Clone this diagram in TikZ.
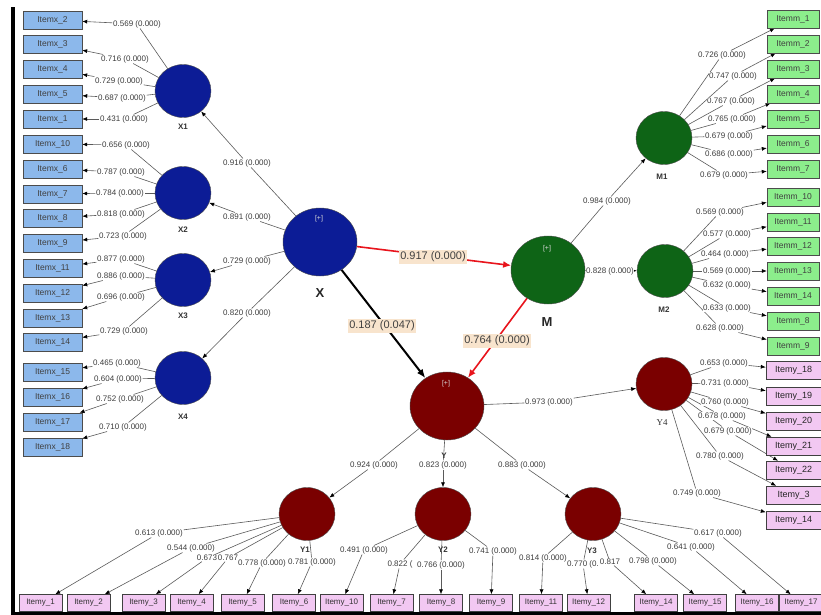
\documentclass[tikz,border=0pt]{standalone}
\usepackage{fontspec}
\setmainfont{Liberation Sans}
\newfontfamily\serY{Liberation Serif}
\usetikzlibrary{arrows.meta,shapes.geometric}
\pgfdeclarelayer{bg}
\pgfsetlayers{bg,main}
\definecolor{cblue}{RGB}{12,28,150}
\definecolor{cgreen}{RGB}{14,100,22}
\definecolor{cmar}{RGB}{122,0,0}
\definecolor{bxblue}{RGB}{140,184,235}
\definecolor{bxgreen}{RGB}{140,238,140}
\definecolor{bxpink}{RGB}{242,200,242}
\definecolor{pathbg}{RGB}{248,228,205}
\definecolor{redln}{RGB}{232,20,28}
\definecolor{labgray}{RGB}{60,60,60}
\definecolor{linegray}{RGB}{90,90,90}
\newcommand\ldg[5]{%
  \node[lab] (#3) at (#4) {#5};
  \begin{pgfonlayer}{bg}
    \draw[ln] (#1) -- (#3);
    \draw[ln,arr] (#3) -- (#2);
  \end{pgfonlayer}}
\begin{document}
\begin{tikzpicture}[x=1pt,y=-1pt,
  lab/.style={font=\fontsize{8}{9}\selectfont, text=labgray, fill=white, inner sep=0.6pt},
  ln/.style={draw=linegray, line width=0.6pt},
  arr/.style={-{Latex[length=5pt,width=4pt,color=black]}},
  bxb/.style={draw=black!70, fill=bxblue, minimum width=59pt, minimum height=18pt, inner sep=0pt, font=\fontsize{8.5}{9}\selectfont, text=black!75},
  bxg/.style={draw=black!70, fill=bxgreen, minimum width=52pt, minimum height=18pt, inner sep=0pt, font=\fontsize{8.5}{9}\selectfont, text=black!75},
  bxp/.style={draw=black!75, fill=bxpink, minimum width=43pt, minimum height=17pt, inner sep=0pt, font=\fontsize{8}{9}\selectfont, text=black!80},
  bxr/.style={draw=black!75, fill=bxpink, minimum width=55pt, minimum height=18pt, inner sep=0pt, font=\fontsize{9}{10}\selectfont, text=black!85},
  lv/.style={ellipse, draw=black!70, minimum width=56pt, minimum height=53pt, inner sep=0pt},
  bigv/.style={ellipse, draw=black!70, minimum width=74pt, minimum height=68pt, inner sep=0pt},
  cname/.style={font=\bfseries\fontsize{8}{9}\selectfont, text=black!80},
  bigname/.style={font=\bfseries\fontsize{13}{14}\selectfont, text=black!85},
  plus/.style={font=\fontsize{7}{8}\selectfont, text=white!85!black},
  pth/.style={font=\fontsize{11}{12}\selectfont, text=black!75, fill=pathbg, inner sep=1.5pt}
]
\useasboundingbox (0,0) rectangle (821,615);
% frame
\fill[black] (11,7) rectangle (15,615);
\fill[black] (11,612) rectangle (821,615);

% boxes
\foreach \n/\y in {2/20,3/44,4/69,5/94,1/119,10/144,6/169,7/194,8/218,9/243,11/268,12/293,13/318,14/342,15/372,16/397,17/422,18/447}
  \node[bxb] (ix\n) at (52.5,\y) {Itemx\_\n};
\foreach \n/\y in {1/19,2/44,3/69,4/94,5/119,6/144,7/169,10/197,11/222,12/246,13/271,14/296,8/321,9/346}
  \node[bxg] (im\n) at (793,\y) {Itemm\_\n};
\foreach \n/\y/\t in {18/370/18,19/396/19,20/421/20,21/446/21,22/470/22,23/495/3,24/520/14}
  \node[bxr] (ir\n) at (793.5,\y) {Itemy\_\t};
\foreach \n/\x in {1/40.5,2/88.5,3/143.5,4/191.5,5/242.5,6/294,10/341.5,7/391.5,8/441,9/491,11/541,12/588.5,14/656,15/705,16/757,17/801}
  \node[bxp] (iy\n) at (\x,603) {Itemy\_\n};

% latent variables
\node[lv, fill=cblue] (X1) at (183,91) {};
\node[lv, fill=cblue] (X2) at (183,193) {};
\node[lv, fill=cblue] (X3) at (183,280) {};
\node[lv, fill=cblue] (X4) at (183,378) {};
\node[bigv, fill=cblue] (X) at (320,242) {};
\node[bigv, fill=cgreen] (M) at (548,270) {};
\node[bigv, fill=cmar] (Y) at (447,406) {};
\node[lv, fill=cgreen] (M1) at (664,138) {};
\node[lv, fill=cgreen] (M2) at (665,271) {};
\node[lv, fill=cmar] (Y4) at (664,384) {};
\node[lv, fill=cmar] (Y1) at (307,514) {};
\node[lv, fill=cmar] (Y2) at (443,514) {};
\node[lv, fill=cmar] (Y3) at (593,514) {};

\node[plus] (pX) at (319,219) {[+]};
\node[plus] (pM) at (547,249) {[+]};
\node[plus] (pY) at (446,384) {[+]};

\node[cname] (nX1) at (183,127) {X1};
\node[cname] (nX2) at (183,230) {X2};
\node[cname] (nX3) at (183,316) {X3};
\node[cname] (nX4) at (183,417) {X4};
\node[bigname] (nX) at (320,293) {X};
\node[bigname] (nM) at (547,322) {M};
\node[cname] (nY) at (444,456) {Y};
\node[cname] (nM1) at (662,177) {M1};
\node[cname] (nM2) at (664,310) {M2};
\node[font=\serY\fontsize{9}{10}\selectfont, text=black!80] (nY4) at (662,423) {Y4};

% inner model
\begin{pgfonlayer}{bg}
  \draw[redln, line width=1.6pt, -{Latex[length=8pt,width=7pt]}] (X) -- (M);
  \draw[black, line width=2pt, -{Latex[length=9pt,width=7pt]}] (X) -- (Y);
  \draw[redln, line width=1.6pt, -{Latex[length=8pt,width=7pt]}] (M) -- (Y);
  \draw[ln,arr] (M) -- (M2);
\end{pgfonlayer}
\node[pth] (p1) at (433,257) {0.917 (0.000)};
\node[pth] (p2) at (382,326) {0.187 (0.047)};
\node[pth] (p3) at (497,341) {0.764 (0.000)};

% structural to dimensions
\ldg{X}{X1}{s1}{247,163}{0.916 (0.000)}
\ldg{X}{X2}{s2}{247,217}{0.891 (0.000)}
\ldg{X}{X3}{s3}{247,261}{0.729 (0.000)}
\ldg{X}{X4}{s4}{247,313}{0.820 (0.000)}
\ldg{M}{M1}{s5}{607,201}{0.984 (0.000)}
\node[lab] (s6) at (610,271) {0.828 (0.000)};
\ldg{Y}{Y4}{s7}{549,402}{0.973 (0.000)}
\ldg{Y}{Y1}{s8}{374,465}{0.924 (0.000)}
\ldg{Y}{Y2}{s9}{443,465}{0.823 (0.000)}
\ldg{Y}{Y3}{s10}{522,465}{0.883 (0.000)}

% X loadings
\ldg{X1}{ix2}{a1}{137,24}{0.569 (0.000)}
\ldg{X1}{ix3}{a2}{125,59}{0.716 (0.000)}
\ldg{X1}{ix4}{a3}{119,81}{0.729 (0.000)}
\ldg{X1}{ix5}{a4}{122,98}{0.687 (0.000)}
\ldg{X1}{ix1}{a5}{124,119}{0.431 (0.000)}
\ldg{X2}{ix10}{a6}{126,145}{0.656 (0.000)}
\ldg{X2}{ix6}{a7}{121,172}{0.787 (0.000)}
\ldg{X2}{ix7}{a8}{120,193}{0.784 (0.000)}
\ldg{X2}{ix8}{a9}{121,214}{0.818 (0.000)}
\ldg{X2}{ix9}{a10}{123,236}{0.723 (0.000)}
\ldg{X3}{ix11}{a11}{121,259}{0.877 (0.000)}
\ldg{X3}{ix12}{a12}{121,276}{0.886 (0.000)}
\ldg{X3}{ix13}{a13}{121,297}{0.696 (0.000)}
\ldg{X3}{ix14}{a14}{124,331}{0.729 (0.000)}
\ldg{X4}{ix15}{a15}{117,363}{0.465 (0.000)}
\ldg{X4}{ix16}{a16}{118,379}{0.604 (0.000)}
\ldg{X4}{ix17}{a17}{120,399}{0.752 (0.000)}
\ldg{X4}{ix18}{a18}{123,427}{0.710 (0.000)}

% M loadings
\ldg{M1}{im1}{b1}{722,55}{0.726 (0.000)}
\ldg{M1}{im2}{b2}{733,76}{0.747 (0.000)}
\ldg{M1}{im3}{b3}{731,101}{0.767 (0.000)}
\ldg{M1}{im4}{b4}{732,119}{0.765 (0.000)}
\ldg{M1}{im5}{b5}{729,136}{0.679 (0.000)}
\ldg{M1}{im6}{b6}{729,154}{0.686 (0.000)}
\ldg{M1}{im7}{b7}{724,175}{0.679 (0.000)}
\ldg{M2}{im10}{b8}{720,212}{0.569 (0.000)}
\ldg{M2}{im11}{b9}{727,234}{0.577 (0.000)}
\ldg{M2}{im12}{b10}{725,254}{0.464 (0.000)}
\ldg{M2}{im13}{b11}{727,271}{0.569 (0.000)}
\ldg{M2}{im14}{b12}{727,285}{0.632 (0.000)}
\ldg{M2}{im8}{b13}{727,308}{0.633 (0.000)}
\ldg{M2}{im9}{b14}{720,328}{0.628 (0.000)}

% Y4 loadings
\ldg{Y4}{ir18}{c1}{724,363}{0.653 (0.000)}
\ldg{Y4}{ir19}{c2}{725,383}{0.731 (0.000)}
\ldg{Y4}{ir20}{c3}{725,402}{0.760 (0.000)}
\ldg{Y4}{ir21}{c4}{722,416}{0.678 (0.000)}
\ldg{Y4}{ir22}{c5}{728,431}{0.679 (0.000)}
\ldg{Y4}{ir23}{c6}{720,456}{0.780 (0.000)}
\ldg{Y4}{ir24}{c7}{697,493}{0.749 (0.000)}

% Y1..Y3 loadings
\ldg{Y1}{iy1}{d1}{159,533}{0.613 (0.000)}
\ldg{Y1}{iy2}{d2}{191,548}{0.544 (0.000)}
\ldg{Y1}{iy3}{d3}{207,558}{0.673}
\ldg{Y1}{iy4}{d4}{228,558}{0.767}
\ldg{Y1}{iy5}{d5}{262,563}{0.778 (0.000)}
\ldg{Y1}{iy6}{d6}{312,562}{0.781 (0.000)}
\ldg{Y2}{iy10}{d7}{364,550}{0.491 (0.000)}
\ldg{Y2}{iy7}{d8}{400,564}{0.822 (}
\ldg{Y2}{iy8}{d9}{441,565}{0.766 (0.000)}
\ldg{Y2}{iy9}{d10}{493,551}{0.741 (0.000)}
\ldg{Y3}{iy11}{d11}{543,558}{0.814 (0.000)}
\ldg{Y3}{iy12}{d12}{583,564}{0.770 (0.}
\ldg{Y3}{iy14}{d13}{610,562}{0.817}
\ldg{Y3}{iy15}{d14}{653,561}{0.798 (0.000)}
\ldg{Y3}{iy16}{d15}{691,547}{0.641 (0.000)}
\ldg{Y3}{iy17}{d16}{718,533}{0.617 (0.000)}

\node[cname] (nY1) at (305,550) {Y1};
\node[cname] (nY2) at (443,550) {Y2};
\node[cname] (nY3) at (592,551) {Y3};
\end{tikzpicture}
\end{document}
